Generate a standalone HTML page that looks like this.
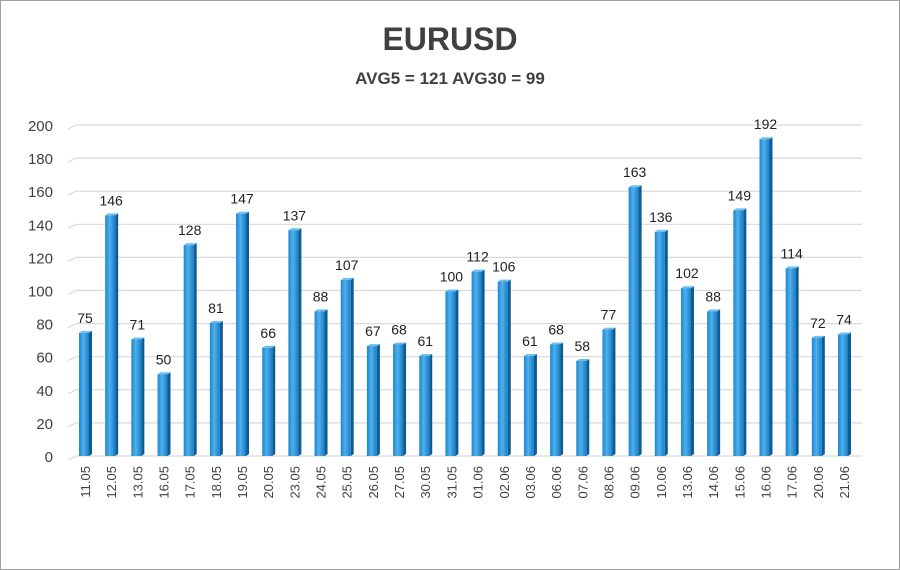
<!DOCTYPE html>
<html><head><meta charset="utf-8"><style>
body{margin:0;background:#fff}
svg{display:block}
text{font-family:"Liberation Sans",Arial,sans-serif}
</style></head><body>
<svg id="chart" width="900" height="570" viewBox="0 0 900 570" xmlns="http://www.w3.org/2000/svg">
<defs>
<linearGradient id="fg" x1="0" x2="1" y1="0" y2="0">
<stop offset="0" stop-color="#1f86cf"/><stop offset="0.45" stop-color="#4fb0ec"/><stop offset="1" stop-color="#1a7cc4"/>
</linearGradient>
</defs>
<rect x="0.5" y="0.5" width="899" height="569" fill="#fff" stroke="#a0a0a0"/>
<text x="450" y="50" text-anchor="middle" font-size="32" font-weight="bold" fill="#404040">EURUSD</text>
<text x="450" y="84" text-anchor="middle" font-size="17" font-weight="bold" fill="#404040">AVG5 = 121 AVG30 = 99</text>
<g id="grid"></g><g id="bars"></g><g id="labels"></g>
</svg>
<script>
const categories=["11.05","12.05","13.05","16.05","17.05","18.05","19.05","20.05","23.05","24.05","25.05","26.05","27.05","30.05","31.05","01.06","02.06","03.06","06.06","07.06","08.06","09.06","10.06","13.06","14.06","15.06","16.06","17.06","20.06","21.06"];
const values=[75,146,71,50,128,81,147,66,137,88,107,67,68,61,100,112,106,61,68,58,77,163,136,102,88,149,192,114,72,74];
const yTicks=[0,20,40,60,80,100,120,140,160,180,200];
const NS="http://www.w3.org/2000/svg";
const y0=456,yMax=200,ph=331;
function y(v){return y0-v/yMax*ph;}
function x(i){return 79+i*(850-79-12)/29;}
function mk(t,a,p){const e=document.createElementNS(NS,t);for(const k in a)e.setAttribute(k,a[k]);(p).appendChild(e);return e;}
const grid=document.getElementById('grid'),bars=document.getElementById('bars'),lab=document.getElementById('labels');
yTicks.forEach(v=>{
 const yy=y(v);
 const l=mk('polyline',{points:`68,${yy+4} 76,${yy} 862,${yy}`,fill:'none',stroke:'#d9d9d9','stroke-width':1.2},grid);
 
 
 const t=mk('text',{x:53,y:yy+6,'text-anchor':'end','font-size':15,fill:'#404040'},grid);
 t.textContent=v;
 
 
});
values.forEach((v,i)=>{
 const xx=x(i),yy=y(v),h=y0-yy;
 const g=mk('g',{},bars);
 
 
 mk('polygon',{points:`${xx+10},${yy+1} ${xx+13},${yy-1} ${xx+13},${y0-2} ${xx+10},${y0}`,fill:'#0d5c96'},g);
 mk('polygon',{points:`${xx},${yy+1} ${xx+3},${yy-1} ${xx+13},${yy-1} ${xx+10},${yy+1}`,fill:'#6cc0f0'},g);
 mk('rect',{x:xx,y:yy+1,width:10,height:h-1,fill:'url(#fg)'},g);
 const t=mk('text',{x:xx+6,y:yy-9,'text-anchor':'middle','font-size':14,fill:'#222'},lab);
 t.textContent=v;
 
 
 const c=mk('text',{x:0,y:0,'text-anchor':'end','font-size':13,fill:'#404040',transform:`translate(${xx+11},466) rotate(-90)`},lab);
 c.textContent=categories[i];
 
 
});
</script>
</body></html>
